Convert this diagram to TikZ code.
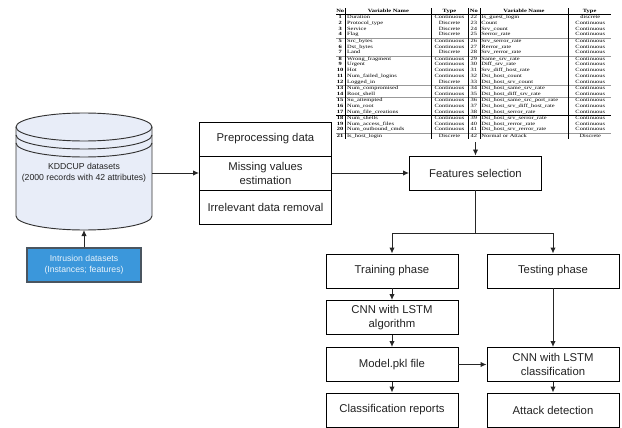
\documentclass[tikz,border=0pt]{standalone}
\usepackage{fontspec}
\setmainfont{Liberation Sans}
\newfontfamily\tabfont{Liberation Serif}
\usepackage{graphicx}
\usepackage{array}
\usepackage{colortbl}
\usetikzlibrary{arrows.meta}
\definecolor{cylfill}{HTML}{E8EDF8}
\definecolor{bluebox}{HTML}{3B97DB}
\definecolor{blueedge}{HTML}{4A5560}
\definecolor{txt}{HTML}{222222}
\newcolumntype{C}[1]{>{\centering\arraybackslash}p{#1}}
\newcolumntype{L}[1]{>{\raggedright\arraybackslash}p{#1}}
\newcommand{\greyrule}{\arrayrulecolor{black!40}\hline\arrayrulecolor{black}}
\tikzset{
 box/.style={draw=black, line width=0.7pt, minimum width=99pt, minimum height=25.5pt, inner sep=1pt, align=center, font=\fontsize{8.5}{10.5}\selectfont, text=txt},
 conn/.style={line width=0.7pt, draw=black!85, -{Latex[length=4.5pt,width=4pt]}},
 plainline/.style={line width=0.7pt, draw=black!85},
 cylline/.style={line width=0.7pt, draw=black!80},
}
\begin{document}
\begin{tikzpicture}[x=0.75pt,y=-0.75pt]
\useasboundingbox (0,0) rectangle (622,428);
% cylinder
\path[fill=cylfill, cylline] (16,127) -- (16,216) arc[start angle=180,end angle=0,x radius=68,y radius=14] -- (152,127) arc[start angle=0,end angle=-180,x radius=68,y radius=14] -- cycle;
\draw[cylline] (16,127) arc[start angle=180,end angle=0,x radius=68,y radius=14];
\draw[cylline] (16,135) arc[start angle=180,end angle=0,x radius=68,y radius=14];
\draw[cylline] (16,143) arc[start angle=180,end angle=0,x radius=68,y radius=14];
\node[font=\fontsize{6.5}{8.3}\selectfont, align=center, text=txt] (kdd) at (84,173) {KDDCUP datasets\\(2000 records with 42 attributes)};
\coordinate (cylE) at (152,173);
\coordinate (cylS) at (84,230);
% intrusion box
\node[draw=blueedge, fill=bluebox, line width=0.8pt, minimum width=85.5pt, minimum height=25.5pt, inner sep=0pt, align=center, text=white!88!bluebox, font=\fontsize{6.5}{8.3}\selectfont] (intr) at (84,265) {Intrusion datasets\\(Instances; features)};
\draw[conn] (intr.north) -- (cylS);
% preprocessing
\node[box] (pre1) at (265.5,139) {Preprocessing data};
\node[box] (pre2) at (265.5,173) {Missing values\\estimation};
\node[box] (pre3) at (265.5,207) {Irrelevant data removal};
\draw[conn] (cylE) -- (pre2.west);
% features
\node[box] (feat) at (475.5,173) {Features selection};
\draw[conn] (pre2.east) -- (feat.west);
% table
\node[inner sep=0pt, anchor=north west] (tbl) at (336,8) {\resizebox*{206pt}{98pt}{\tabfont\fontsize{5}{6}\selectfont\setlength{\tabcolsep}{1pt}%
\begin{tabular}{@{}C{6pt}|L{64pt}|C{26pt}|C{7pt}|L{66pt}|C{32pt}@{}}
\textbf{No} & \multicolumn{1}{c|}{\textbf{Variable Name}} & \textbf{Type} & \textbf{No} & \multicolumn{1}{c|}{\textbf{Variable Name}} & \multicolumn{1}{c}{\textbf{Type}}\\ \hline
\textbf{1} & Duration & Continuous & 22 & Is\_guest\_login & discrete\\
\textbf{2} & Protocol\_type & Discrete & 23 & Count & Continuous\\
\textbf{3} & Service & Discrete & 24 & Srv\_count & Continuous\\
\textbf{4} & Flag & Discrete & 25 & Serror\_rate & Continuous\\ \greyrule
\textbf{5} & Src\_bytes & Continuous & 26 & Srv\_serror\_rate & Continuous\\
\textbf{6} & Dst\_bytes & Continuous & 27 & Rerror\_rate & Continuous\\
\textbf{7} & Land & Discrete & 28 & Srv\_rerror\_rate & Continuous\\ \greyrule
\textbf{8} & Wrong\_fragment & Continuous & 29 & Same\_srv\_rate & Continuous\\
\textbf{9} & Urgent & Continuous & 30 & Diff\_srv\_rate & Continuous\\
\textbf{10} & Hot & Continuous & 31 & Srv\_diff\_host\_rate & Continuous\\
\textbf{11} & Num\_failed\_logins & Continuous & 32 & Dst\_host\_count & Continuous\\
\textbf{12} & Logged\_in & Discrete & 33 & Dst\_host\_srv\_count & Continuous\\ \greyrule
\textbf{13} & Num\_compromised & Continuous & 34 & Dst\_host\_same\_srv\_rate & Continuous\\
\textbf{14} & Root\_shell & Continuous & 35 & Dst\_host\_diff\_srv\_rate & Continuous\\ \greyrule
\textbf{15} & Su\_attempted & Continuous & 36 & Dst\_host\_same\_src\_port\_rate & Continuous\\
\textbf{16} & Num\_root & Continuous & 37 & Dst\_host\_srv\_diff\_host\_rate & Continuous\\
\textbf{17} & Num\_file\_creations & Continuous & 38 & Dst\_host\_serror\_rate & Continuous\\ \hline
\textbf{18} & Num\_shells & Continuous & 39 & Dst\_host\_srv\_serror\_rate & Continuous\\
\textbf{19} & Num\_access\_files & Continuous & 40 & Dst\_host\_rerror\_rate & Continuous\\
\textbf{20} & Num\_outbound\_cmds & Continuous & 41 & Dst\_host\_srv\_rerror\_rate & Continuous\\ \greyrule
\textbf{21} & Is\_host\_login & Discrete & 42 & Normal or Attack & Discrete\\
\end{tabular}}};
\draw[conn] (tbl.south -| feat.north) ++(0,3) -- (feat.north);
% branches
\node[box] (train) at (392,271) {Training phase};
\node[box] (test) at (553,271) {Testing phase};
\coordinate (br) at (475.5,233);
\draw[plainline] (feat.south) -- (br);
\draw[conn] (br) -| (train.north);
\draw[conn] (br) -| (test.north);
% left column
\node[box] (cnn1) at (392,317.5) {CNN with LSTM\\algorithm};
\node[box] (model) at (392,364.5) {Model.pkl file};
\node[box] (rep) at (392,410) {Classification reports};
% right column
\node[box] (cnn2) at (553,364.5) {CNN with LSTM\\classification};
\node[box] (att) at (553,410) {Attack detection};
\draw[conn] (train) -- (cnn1);
\draw[conn] (cnn1) -- (model);
\draw[conn] (model) -- (rep);
\draw[conn] (test) -- (cnn2);
\draw[conn] (model) -- (cnn2);
\draw[conn] (cnn2) -- (att);
\end{tikzpicture}
\end{document}
